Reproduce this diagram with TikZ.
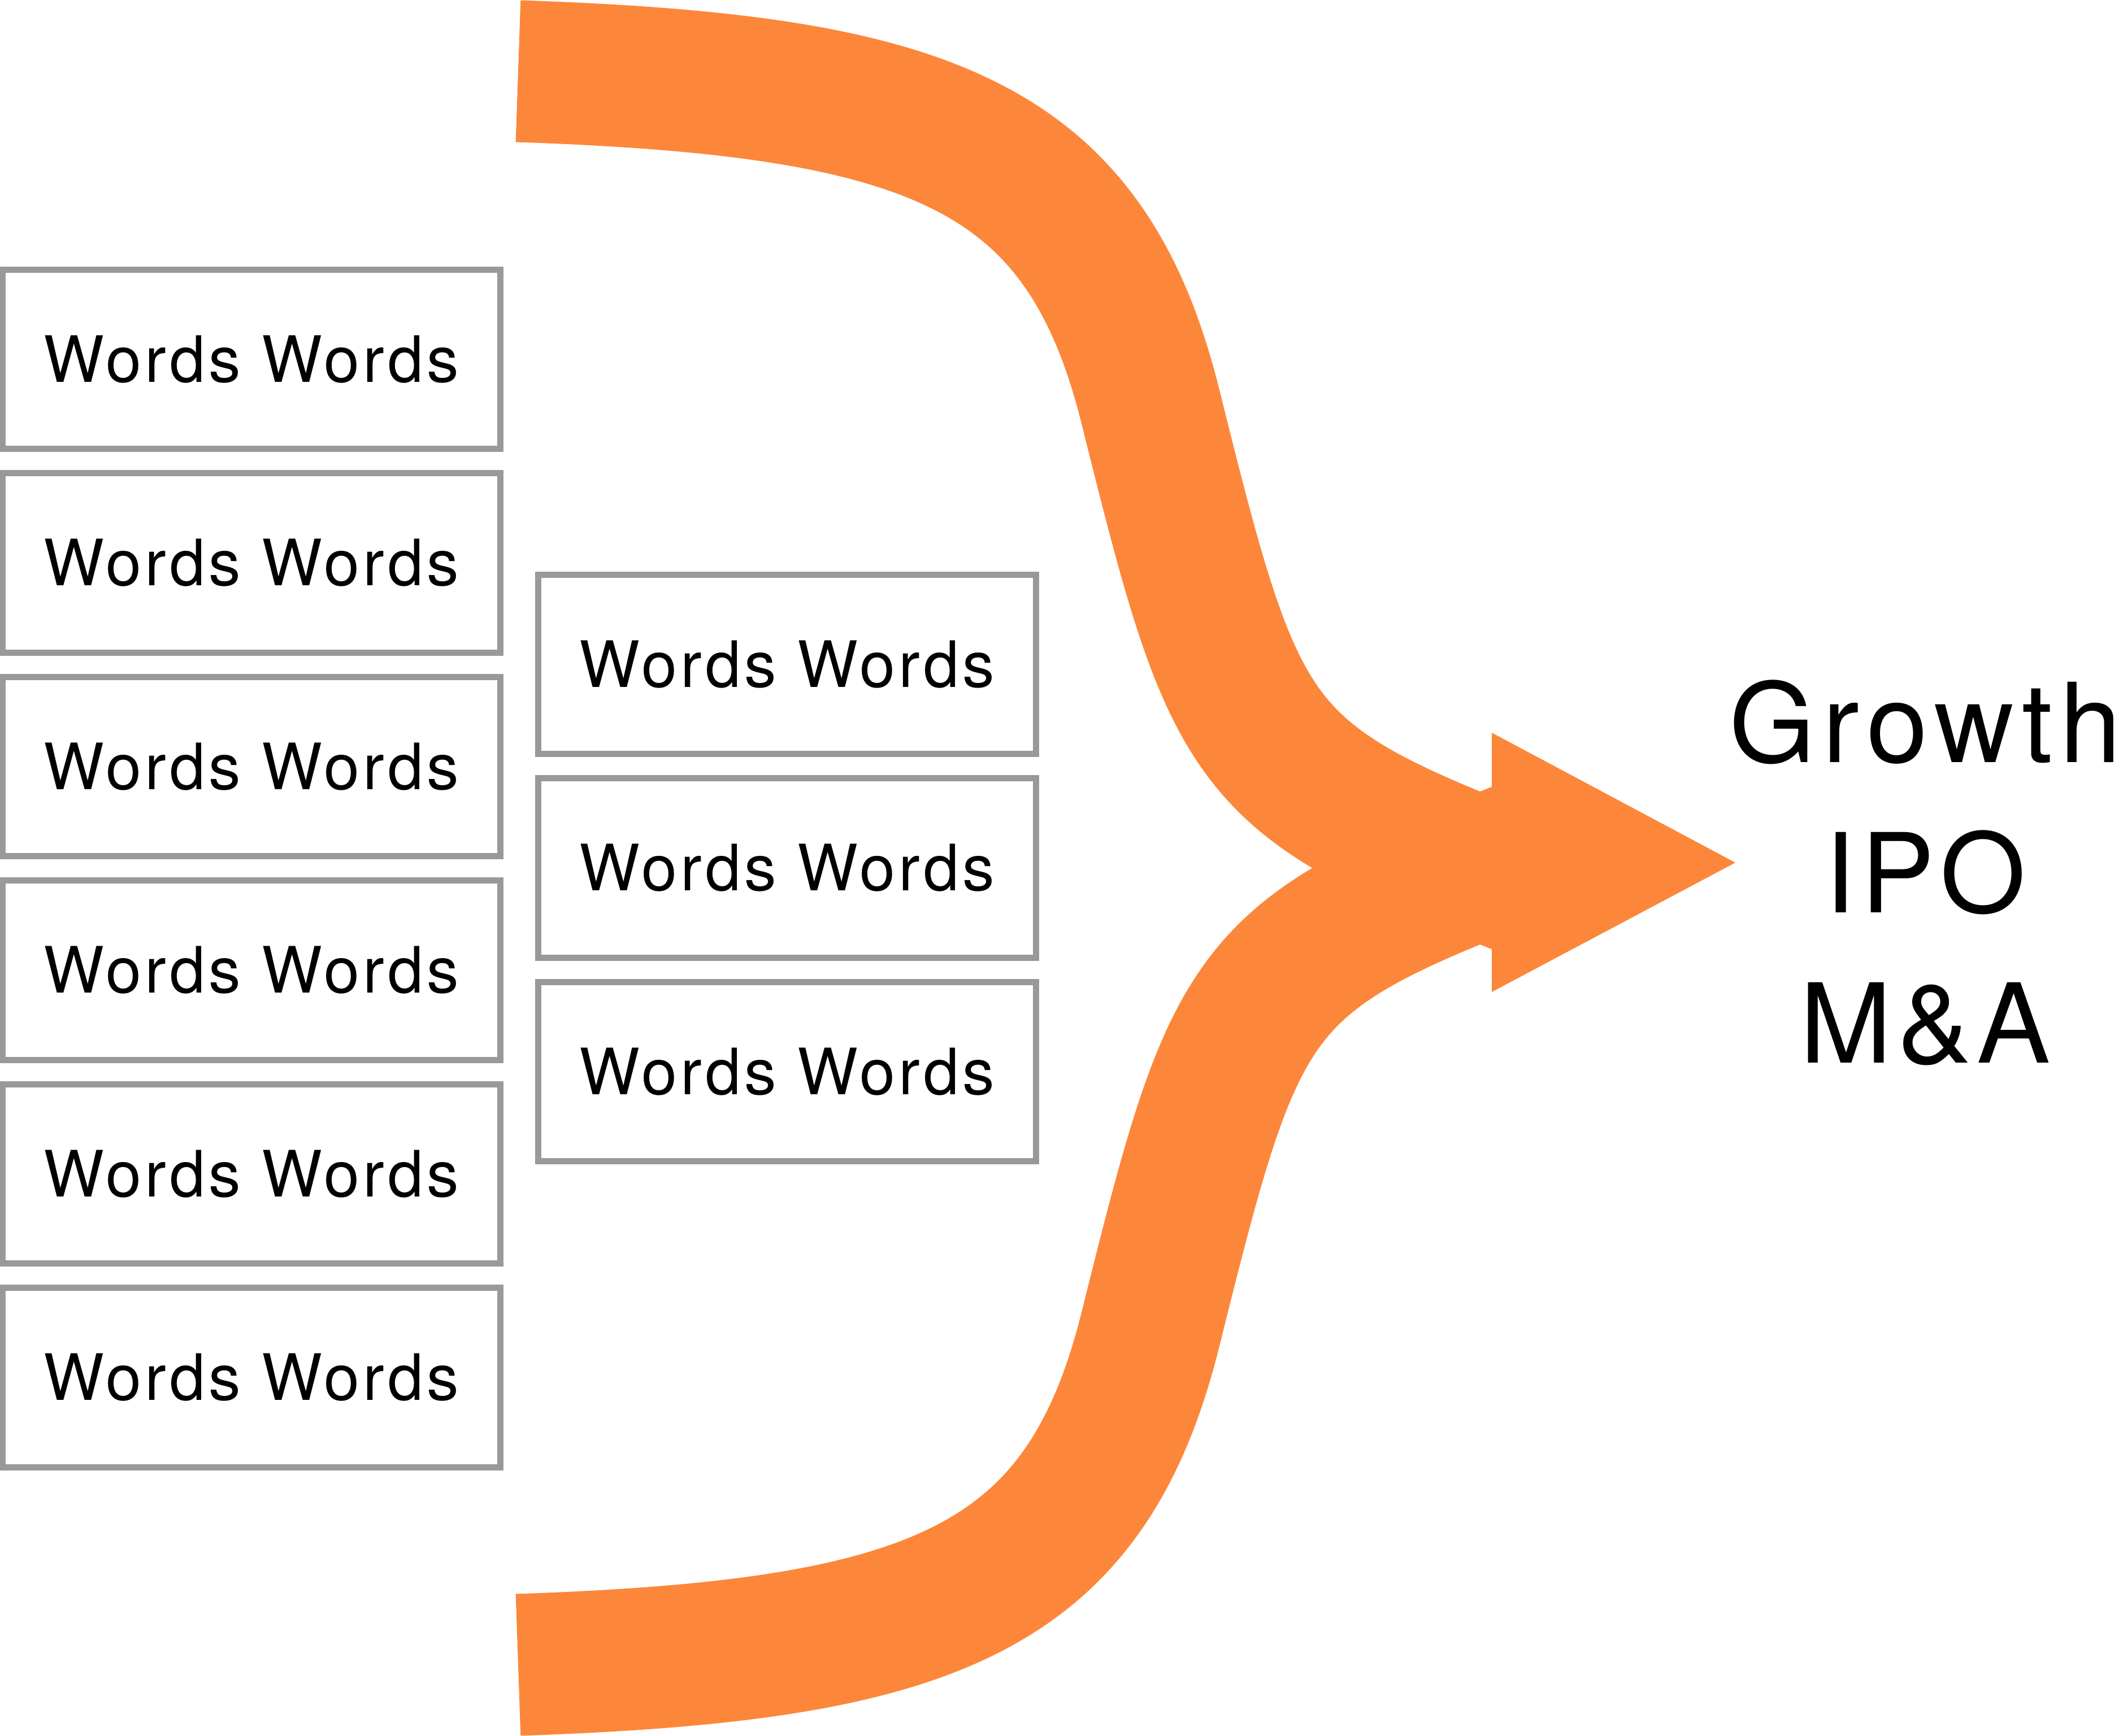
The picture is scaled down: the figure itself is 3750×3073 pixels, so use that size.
\documentclass[tikz,border=0pt]{standalone}
\usepackage{fontspec}
\setmainfont{TeX Gyre Heros}
\newfontfamily\boxfont[LetterSpace=5.5]{TeX Gyre Heros}
\newfontfamily\resfont[LetterSpace=5]{TeX Gyre Heros}
\newfontfamily\resfontwide[LetterSpace=7]{TeX Gyre Heros}
\definecolor{arroworange}{RGB}{252,135,59}
\definecolor{boxgray}{RGB}{153,153,153}
\begin{document}
\begin{tikzpicture}[x=0.01cm,y=-0.01cm,
  wbox/.style={draw=boxgray, line width=0.11cm, minimum width=8.8cm,
    minimum height=3.17cm, inner sep=0pt,
    font=\boxfont\fontsize{32.2pt}{38pt}\selectfont},
  band/.style={draw=arroworange, line width=2.51cm, line cap=butt},
  result/.style={align=center, inner sep=0pt,
    font=\resfont\fontsize{55.5pt}{75.7pt}\selectfont}]
\useasboundingbox (0,0) rectangle (3750,3073);

% merging arrow: two bands and one head
\coordinate (tipA) at (2690,1565);
\coordinate (tipB) at (2690,1508);
\draw[band] (917,126) .. controls (1647,151) and (1920,254) .. (2036,720)
  .. controls (2176,1283) and (2204,1369) .. (2593,1526) -- (tipA);
\draw[band] (917,2947) .. controls (1647,2922) and (1920,2819) .. (2036,2353)
  .. controls (2176,1790) and (2204,1704) .. (2593,1547) -- (tipB);
\fill[arroworange] (2640,1297) -- (3071,1527) -- (2640,1756) -- cycle;

% left column
\foreach \i in {0,...,5}
  \node[wbox] (L\i) at (445,{636+\i*360.5}) {Words Words};
% middle column
\foreach \j in {0,1,2}
  \node[wbox] (M\j) at (1393,{1176+\j*360.5}) {Words Words};

% result
\node[result, anchor=north] (res) at (3407,1203)
  {{\resfontwide Growth}\\IPO\\M\&A};
\end{tikzpicture}
\end{document}
